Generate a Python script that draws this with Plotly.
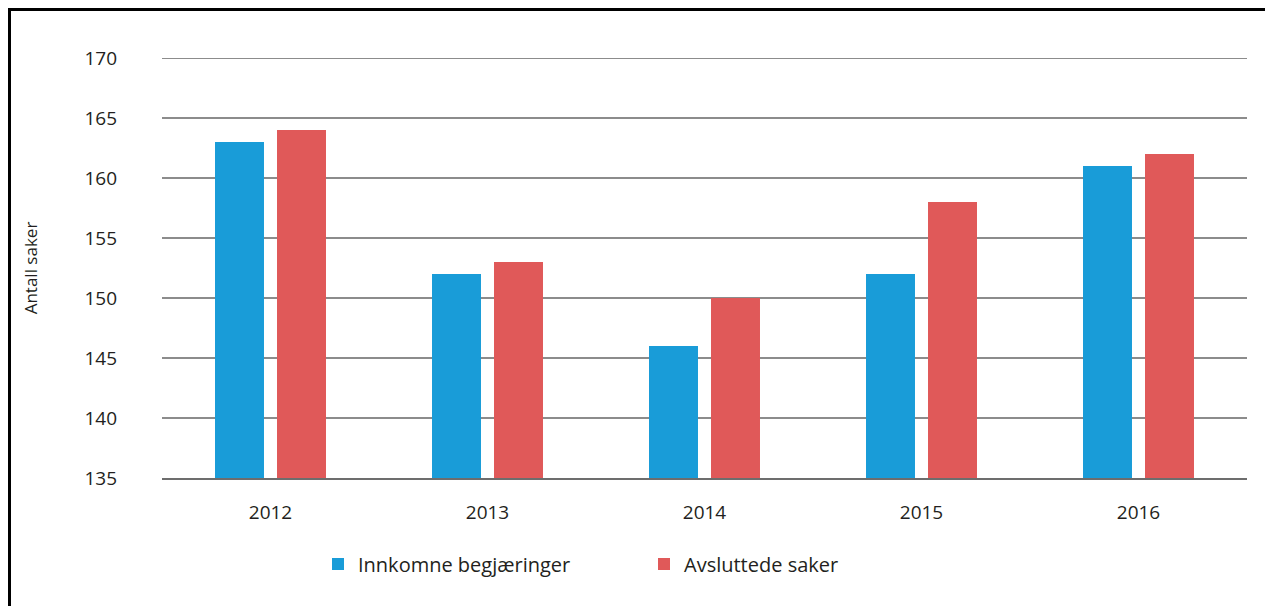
import plotly.graph_objects as go

years = ["2012", "2013", "2014", "2015", "2016"]
innkomne = [163, 152, 146, 152, 161]
avsluttede = [164, 153, 150, 158, 162]
series_names = ["Innkomne begjæringer", "Avsluttede saker"]
y_ticks = [135, 140, 145, 150, 155, 160, 165, 170]

# page body has an 8px margin, so the figure is drawn 8px in from the window edge
OFF = 8
W, H = 1273 - OFF, 606 - OFF
L, R, T, B = 162 - OFF, 26, 58 - OFF, 128
pw, ph = W - L - R, H - T - B

def px_x(px):
    return (px - OFF - L) / pw

def px_y(py):
    return (H - B - (py - OFF)) / ph

FONT = "Open Sans"
TXT = "#231f20"
GRID = "#8c8c8c"

fig = go.Figure()
fig.add_trace(go.Bar(x=years, y=innkomne, name=series_names[0],
                     marker=dict(color="#199cd8", line=dict(width=0))))
fig.add_trace(go.Bar(x=years, y=avsluttede, name=series_names[1],
                     marker=dict(color="#e05959", line=dict(width=0))))

# top gridline (plotly drops the gridline that sits on the range edge)
fig.add_shape(type="line", xref="paper", yref="y", x0=0, x1=1,
              y0=y_ticks[-1], y1=y_ticks[-1], layer="below",
              line=dict(color=GRID, width=2))

bx = px_x(9.5)
by = px_y(9.5)
fig.add_shape(type="path", xref="paper", yref="paper",
              path=f"M {bx},{px_y(700)} L {bx},{by} L {px_x(1400)},{by}",
              line=dict(color="black", width=3))

fig.update_layout(
    width=W, height=H,
    margin=dict(l=L, r=R, t=T, b=B, autoexpand=False),
    paper_bgcolor="white", plot_bgcolor="white",
    barmode="group", bargap=0.4286, bargroupgap=0.21,
    font=dict(family=FONT, size=19, color=TXT),
    showlegend=True,
    legend=dict(orientation="h", x=px_x(318), xanchor="left",
                y=px_y(564), yanchor="middle",
                entrywidth=281, entrywidthmode="pixels",
                font=dict(family=FONT, size=20, color=TXT),
                bgcolor="rgba(0,0,0,0)"),
    xaxis=dict(showgrid=False, showline=True, linecolor="#6d6d6d", linewidth=1.5,
               ticks="", ticklabelstandoff=16,
               tickfont=dict(family=FONT, size=19, color=TXT)),
    yaxis=dict(range=[135, 170], tickvals=y_ticks, showgrid=True,
               gridcolor=GRID, gridwidth=1.5, zeroline=False,
               showline=False, ticks="", ticklabelstandoff=44,
               tickfont=dict(family=FONT, size=19, color=TXT),
               title=dict(text="Antall saker", standoff=42,
                          font=dict(family=FONT, size=17, color=TXT))),
)

fig.write_html("out.html")
